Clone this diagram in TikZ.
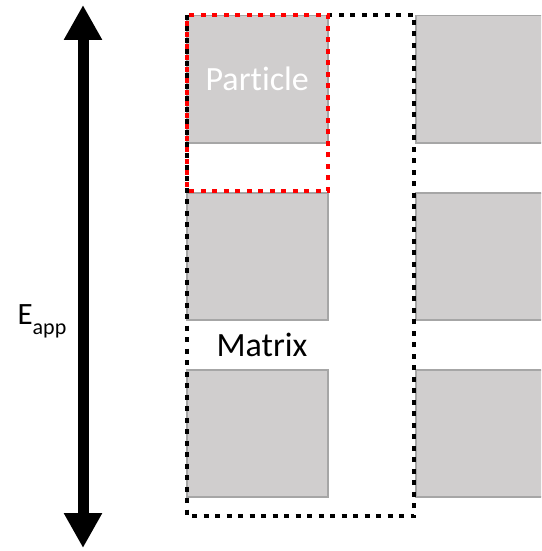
\documentclass[tikz,border=0pt]{standalone}
\usepackage{fontspec}
\setmainfont[Ligatures={NoCommon}]{Carlito}
\usetikzlibrary{arrows.meta}
\definecolor{blockgray}{RGB}{208,206,206}
\definecolor{edgegray}{RGB}{166,166,166}
\definecolor{unitred}{RGB}{255,0,0}
\begin{document}
\begin{tikzpicture}[x=1pt,y=-1pt,
    block/.style={draw=edgegray,line width=1.5pt,fill=blockgray,inner sep=0pt,
      minimum width=141pt,minimum height=127pt,anchor=north west},
    dotline/.style={line width=4.5pt,dash pattern=on 5pt off 6.5pt},
    bigtext/.style={font=\fontsize{34}{40}\selectfont},
    field/.style={{Triangle[width=36pt,length=35pt]}-{Triangle[width=36pt,length=35pt]},line width=11pt}]
  \clip (0,0) rectangle (541,551);
  % particles
  \node[block,bigtext,text=white] (p1) at (186,15) {Particle};
  \node[block] (p2) at (186,192) {};
  \node[block] (p3) at (186,369) {};
  \node[block] (q1) at (415,15) {};
  \node[block] (q2) at (415,192) {};
  \node[block] (q3) at (415,369) {};
  \node[bigtext] (matrix) at (262,345) {Matrix};
  % cells
  \coordinate (cellnw) at (187,15);
  \coordinate (cellse) at (414,516);
  \coordinate (unitse) at (328,191);
  \draw[dotline,black] (cellnw) rectangle (cellse);
  \draw[dotline,unitred,dash phase=5.75pt] (cellnw) rectangle (unitse);
  % applied field
  \coordinate (ftop) at (83,5);
  \coordinate (fbot) at (83,548);
  \draw[field] (fbot) -- (ftop);
  \node[anchor=base west,font=\fontsize{31}{36}\selectfont] (eapp) at (14,324)
    {E\raisebox{-10pt}{\fontsize{22}{25}\selectfont app}};
\end{tikzpicture}
\end{document}
